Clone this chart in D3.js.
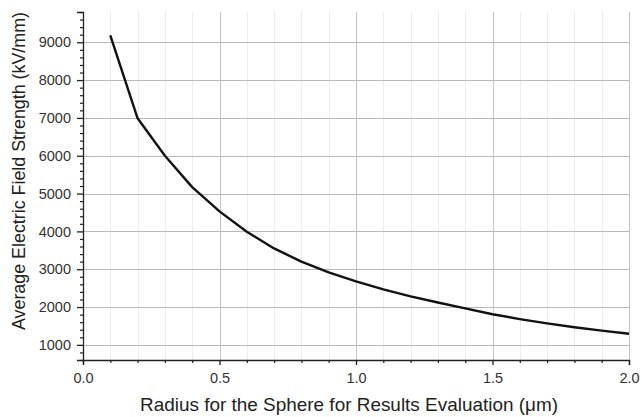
<!DOCTYPE html>
<html>
<head>
<meta charset="utf-8">
<script src="https://cdn.jsdelivr.net/npm/d3@7"></script>
<style>
  html, body { margin: 0; padding: 0; background: #fff; }
  svg { display: block; font-family: "Liberation Sans", Arial, sans-serif; }
</style>
</head>
<body>
<svg id="chart" width="642" height="417"></svg>
<script>
// Sphere radius (µm) and average field strength (kV/mm)
const radius = [0.1, 0.2, 0.3, 0.4, 0.5, 0.6, 0.7, 0.8, 0.9, 1.0,
                1.1, 1.2, 1.3, 1.4, 1.5, 1.6, 1.7, 1.8, 1.9, 2.0];
const fieldStrength = [9180, 6990, 6000, 5170, 4530, 3990, 3550, 3200, 2915, 2680,
                       2465, 2280, 2120, 1965, 1810, 1682, 1567, 1467, 1377, 1295];

const xTicks = [0.0, 0.5, 1.0, 1.5, 2.0];
const xMinorTicks = d3.range(0, 2.0001, 0.1).map(v => +v.toFixed(1));
const yTicks = [1000, 2000, 3000, 4000, 5000, 6000, 7000, 8000, 9000];
const yMinorTicks = d3.range(600, 9801, 200);

const xTitle = "Radius for the Sphere for Results Evaluation (\u03bcm)";
const yTitle = "Average Electric Field Strength (kV/mm)";

const svg = d3.select("#chart");
const plotL = 83, plotR = 629, plotT = 12, plotB = 360;

const x = d3.scaleLinear().domain([0, 2.0]).range([plotL, plotR]);
const y = d3.scaleLinear().domain([600, 9800]).range([plotB, plotT]);

const isMinorX = v => Math.abs(v * 2 - Math.round(v * 2)) > 1e-6;
const font = "'Liberation Sans', Arial, sans-serif";

// minor vertical grid
svg.append("g").selectAll("line")
  .data(xMinorTicks.filter(isMinorX))
  .join("line")
  .attr("x1", d => Math.round(x(d)) + 0.5).attr("x2", d => Math.round(x(d)) + 0.5)
  .attr("y1", plotT).attr("y2", plotB)
  .attr("stroke", "#ececec").attr("stroke-width", 1);

// major vertical grid
svg.append("g").selectAll("line")
  .data(xTicks.slice(1))
  .join("line")
  .attr("x1", d => Math.round(x(d)) + 0.5).attr("x2", d => Math.round(x(d)) + 0.5)
  .attr("y1", plotT).attr("y2", plotB)
  .attr("stroke", "#c4c4c4").attr("stroke-width", 1);

// horizontal grid
svg.append("g").selectAll("line")
  .data(yTicks)
  .join("line")
  .attr("x1", plotL).attr("x2", plotR)
  .attr("y1", d => Math.round(y(d)) + 0.5).attr("y2", d => Math.round(y(d)) + 0.5)
  .attr("stroke", "#b8b8b8").attr("stroke-width", 1);

// x axis
const xAxis = d3.axisBottom(x).tickValues(xTicks).tickFormat(d3.format(".1f"))
  .tickSize(5).tickPadding(8);
const gx = svg.append("g").attr("transform", `translate(0,${plotB})`).call(xAxis);
gx.select(".domain").attr("stroke", "#222").attr("stroke-width", 1.3);
gx.selectAll(".tick line").attr("stroke", "#222").attr("stroke-width", 1.3);
gx.selectAll(".tick text").attr("fill", "#333").style("font-size", "14.5px")
  .style("font-family", font);

const xMinor = d3.axisBottom(x)
  .tickValues(xMinorTicks.filter(isMinorX))
  .tickSize(3).tickFormat("");
const gxm = svg.append("g").attr("transform", `translate(0,${plotB})`).call(xMinor);
gxm.select(".domain").remove();
gxm.selectAll(".tick line").attr("stroke", "#222").attr("stroke-width", 1.2);

// y axis
const yAxis = d3.axisLeft(y).tickValues(yTicks).tickFormat(d3.format("d"))
  .tickSize(6).tickPadding(6);
const gy = svg.append("g").attr("transform", `translate(${plotL},0)`).call(yAxis);
gy.select(".domain").attr("stroke", "#222").attr("stroke-width", 1.3);
gy.selectAll(".tick line").attr("stroke", "#222").attr("stroke-width", 1.3);
gy.selectAll(".tick text").attr("fill", "#333").style("font-size", "14.5px")
  .style("font-family", font);

const yMinor = d3.axisLeft(y)
  .tickValues(yMinorTicks.filter(v => v % 1000 !== 0))
  .tickSize(3).tickFormat("");
const gym = svg.append("g").attr("transform", `translate(${plotL},0)`).call(yMinor);
gym.select(".domain").remove();
gym.selectAll(".tick line").attr("stroke", "#222").attr("stroke-width", 1.2);

// field strength curve
const line = d3.line().x((d, i) => x(radius[i])).y(d => y(d));
svg.append("path")
  .datum(fieldStrength)
  .attr("d", line)
  .attr("fill", "none")
  .attr("stroke", "#111")
  .attr("stroke-width", 2.4)
  .attr("stroke-linejoin", "round");

// axis titles
svg.append("text")
  .attr("x", 349).attr("y", 411)
  .attr("text-anchor", "middle")
  .attr("fill", "#222")
  .attr("textLength", 418)
  .attr("lengthAdjust", "spacingAndGlyphs")
  .style("font-size", "18.5px")
  .text(xTitle);

svg.append("text")
  .attr("transform", `translate(25,171) rotate(-90)`)
  .attr("text-anchor", "middle")
  .attr("fill", "#222")
  .attr("textLength", 318)
  .attr("lengthAdjust", "spacingAndGlyphs")
  .style("font-size", "18px")
  .text(yTitle);
</script>
</body>
</html>
